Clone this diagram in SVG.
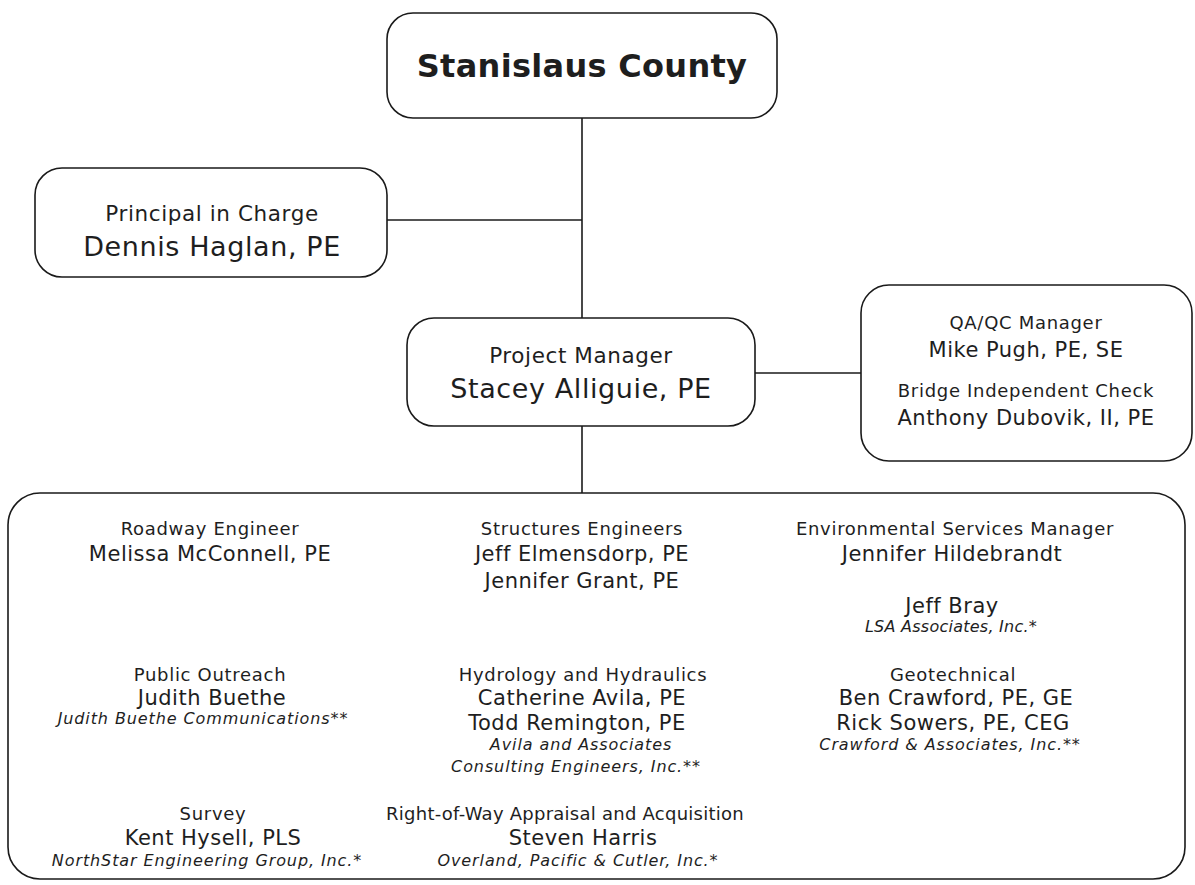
<svg xmlns="http://www.w3.org/2000/svg" width="1195" height="885" viewBox="0 0 1195 885">
<style>
.box{fill:#fff;stroke:#1a1a1a;stroke-width:1.6}
.ln{fill:none;stroke:#1a1a1a;stroke-width:1.6}
text{font-family:"DejaVu Sans",Verdana,sans-serif;fill:#1e1e1e;text-anchor:middle}
.big{font-size:32px;font-weight:bold;letter-spacing:0.3px}
.bt{font-size:21.5px;letter-spacing:0.6px}
.bn{font-size:27px;letter-spacing:0.6px}
.tt{font-size:18px;letter-spacing:0.7px}
.nm{font-size:21px;letter-spacing:0.5px}
.it{font-size:16px;font-style:italic;letter-spacing:0.9px}
.tight{letter-spacing:0.25px}
</style>
<rect width="1195" height="885" fill="#fff"/>
<g id="connectors">
<path class="ln" d="M582 118V318"/>
<path class="ln" d="M387 220H582"/>
<path class="ln" d="M755 373H861"/>
<path class="ln" d="M582 426V493"/>
</g>
<g id="county">
<rect class="box" x="387" y="13" width="390" height="105" rx="26"/>
<text class="big" x="582" y="77">Stanislaus County</text>
</g>
<g id="principal">
<rect class="box" x="35" y="168" width="352" height="109" rx="27"/>
<text class="bt" x="212" y="221">Principal in Charge</text>
<text class="bn" x="212" y="256">Dennis Haglan, PE</text>
</g>
<g id="pm">
<rect class="box" x="407" y="318" width="348" height="108" rx="27"/>
<text class="bt" x="581" y="363">Project Manager</text>
<text class="bn" x="581" y="398">Stacey Alliguie, PE</text>
</g>
<g id="qaqc">
<rect class="box" x="861" y="285" width="331" height="176" rx="28"/>
<text class="tt" x="1026" y="329">QA/QC Manager</text>
<text class="nm" x="1026" y="357">Mike Pugh, PE, SE</text>
<text class="tt" x="1026" y="397">Bridge Independent Check</text>
<text class="nm" x="1026" y="425">Anthony Dubovik, II, PE</text>
</g>
<g id="team">
<rect class="box" x="8" y="493" width="1177" height="386" rx="32"/>
<text class="tt" x="210" y="535">Roadway Engineer</text>
<text class="nm" x="210" y="561">Melissa McConnell, PE</text>
<text class="tt" x="210" y="681">Public Outreach</text>
<text class="nm" x="212" y="705">Judith Buethe</text>
<text class="it" x="203" y="724">Judith Buethe Communications**</text>
<text class="tt" x="213" y="820">Survey</text>
<text class="nm" x="213" y="845">Kent Hysell, PLS</text>
<text class="it" x="207" y="866">NorthStar Engineering Group, Inc.*</text>

<text class="tt" x="582" y="535">Structures Engineers</text>
<text class="nm" x="582" y="561">Jeff Elmensdorp, PE</text>
<text class="nm" x="582" y="588">Jennifer Grant, PE</text>
<text class="tt" x="583" y="681">Hydrology and Hydraulics</text>
<text class="nm" x="582" y="705">Catherine Avila, PE</text>
<text class="nm" x="577" y="730">Todd Remington, PE</text>
<text class="it" x="581" y="750">Avila and Associates</text>
<text class="it" x="576" y="772">Consulting Engineers, Inc.**</text>
<text class="tt tight" x="565" y="820">Right-of-Way Appraisal and Acquisition</text>
<text class="nm" x="583" y="845">Steven Harris</text>
<text class="it" x="578" y="866">Overland, Pacific &amp; Cutler, Inc.*</text>

<text class="tt" x="955" y="535">Environmental Services Manager</text>
<text class="nm" x="952" y="561">Jennifer Hildebrandt</text>
<text class="nm" x="952" y="613">Jeff Bray</text>
<text class="it tight" x="951" y="632">LSA Associates, Inc.*</text>
<text class="tt" x="953" y="681">Geotechnical</text>
<text class="nm" x="956" y="705">Ben Crawford, PE, GE</text>
<text class="nm" x="953" y="730">Rick Sowers, PE, CEG</text>
<text class="it" x="950" y="750">Crawford &amp; Associates, Inc.**</text>
</g>
</svg>
